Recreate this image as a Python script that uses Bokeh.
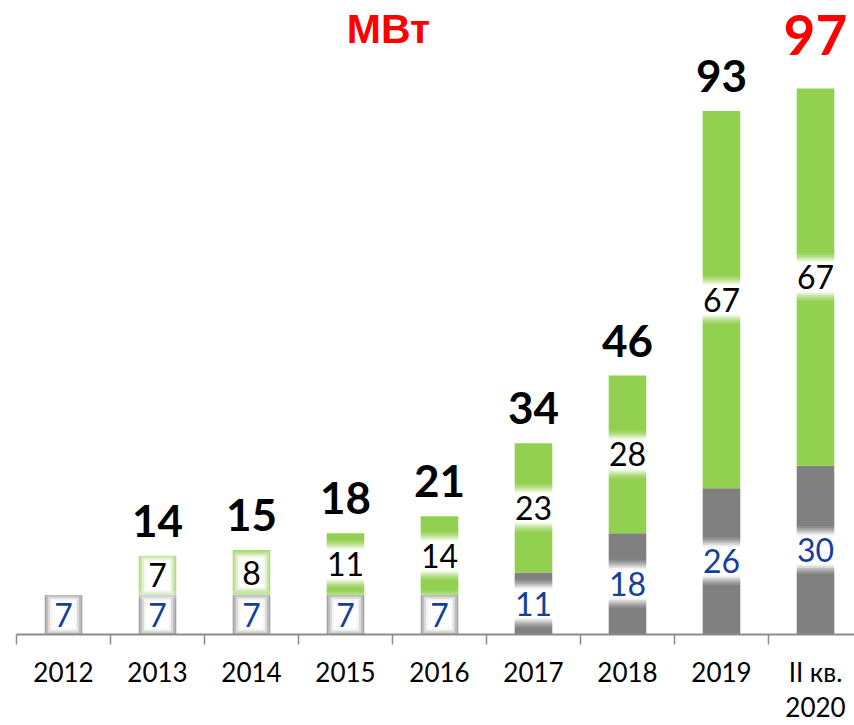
from bokeh.plotting import figure
from bokeh.models import Range1d, FixedTicker, ColumnDataSource, Label
from bokeh.core.properties import value
from bokeh.embed import file_html
from bokeh.resources import INLINE

# ---- data ----
years = ["2012", "2013", "2014", "2015", "2016", "2017", "2018", "2019", "II кв.\n2020"]
base_mw = [7, 7, 7, 7, 7, 11, 18, 26, 30]        # gray segment
added_mw = [0, 7, 8, 11, 14, 23, 28, 67, 67]     # green segment
title_text = "МВт"

GRAY = "#808080"
GREEN = "#92d050"
BLUE = "#153f9b"
AXIS = "#8c8c8c"
FONT = "Lato"

n = len(years)
xs = [i + 0.5 for i in range(n)]
totals = [b + a for b, a in zip(base_mw, added_mw)]

PX_PER_UNIT = 5.628
FRAME_H = 634
DIGIT_W = 17
# glow layers: (extra width px, height px, alpha)
GLOW = [(16, 48, 0.12), (12, 44, 0.18), (8, 40, 0.28), (4, 36, 0.45), (0, 32, 0.7), (-4, 28, 1.0)]

p = figure(width=854, height=725, output_backend="svg", toolbar_location=None,
           x_range=Range1d(0, 8.915), y_range=Range1d(0, FRAME_H / PX_PER_UNIT),
           min_border_left=16, min_border_right=0, min_border_top=0, min_border_bottom=91)
p.outline_line_color = None
p.grid.visible = False
p.yaxis.visible = False
p.background_fill_color = "white"
p.border_fill_color = "white"

base_lbl = [str(b) for b in base_mw]
gdata = dict(x=xs, base=base_mw, mid=[b / 2 for b in base_mw], lbl=base_lbl)
for i, (dw, h, a) in enumerate(GLOW):
    gdata[f"w{i}"] = [DIGIT_W * len(s) + 10 + dw for s in base_lbl]
src = ColumnDataSource(gdata)

keep = [i for i, a in enumerate(added_mw) if a > 0]
green_lbl = [str(added_mw[i]) for i in keep]
ndata = dict(
    x=[xs[i] for i in keep],
    bottom=[base_mw[i] for i in keep],
    top=[totals[i] for i in keep],
    mid=[base_mw[i] + added_mw[i] / 2 for i in keep],
    lbl=green_lbl,
)
for i, (dw, h, a) in enumerate(GLOW):
    ndata[f"w{i}"] = [DIGIT_W * len(s) + 10 + dw for s in green_lbl]
gsrc = ColumnDataSource(ndata)

BW = 0.4
p.vbar(x="x", bottom=0, top="base", width=BW, source=src, fill_color=GRAY, line_color=None)
p.vbar(x="x", bottom="bottom", top="top", width=BW, source=gsrc, fill_color=GREEN, line_color=None)

# soft white glow behind the inner labels (clipped to the bar width visually by layering)
for i, (dw, h, a) in enumerate(GLOW):
    for s in (src, gsrc):
        p.rect(x="x", y="mid", width=f"w{i}", height=h, width_units="screen",
               height_units="screen", source=s, fill_color="white", fill_alpha=a,
               line_color=None)

p.text(x="x", y="mid", text="lbl", source=src, text_align="center",
       text_baseline="middle", text_font=value(FONT), text_font_size="32px", text_color=BLUE)
p.text(x="x", y="mid", text="lbl", source=gsrc, text_align="center",
       text_baseline="middle", text_font=value(FONT), text_font_size="32px", text_color="black")

# totals
tsrc = ColumnDataSource(dict(x=xs[1:-1], y=totals[1:-1], t=[str(t) for t in totals[1:-1]]))
p.text(x="x", y="y", text="t", source=tsrc, text_align="center", text_baseline="alphabetic",
       y_offset=-35, text_font=value(FONT), text_font_style="bold", text_font_size="44px",
       text_color="black")
lsrc = ColumnDataSource(dict(x=xs[-1:], y=totals[-1:], t=[str(t) for t in totals[-1:]]))
p.text(x="x", y="y", text="t", source=lsrc, text_align="center", text_baseline="alphabetic",
       y_offset=-54, text_font=value(FONT), text_font_style="bold", text_font_size="55px",
       text_color="#ff0000")

# title
p.add_layout(Label(x=372, y=FRAME_H - 5, x_units="screen", y_units="screen", text=title_text,
                   text_align="center", text_baseline="top", text_font="Liberation Sans",
                   text_font_style="bold", text_font_size="41px", text_color="#ff0000"))

# x axis
ax = p.xaxis[0]
ax.ticker = FixedTicker(ticks=xs, minor_ticks=list(range(n + 1)))
ax.major_label_overrides = {x: y for x, y in zip(xs, years)}
ax.major_tick_line_color = None
ax.major_tick_in = 0
ax.major_tick_out = 10
ax.minor_tick_in = 0
ax.minor_tick_out = 10
ax.minor_tick_line_color = AXIS
ax.minor_tick_line_width = 1.5
ax.axis_line_color = AXIS
ax.axis_line_width = 2
ax.major_label_standoff = 11
ax.major_label_text_font = FONT
ax.major_label_text_font_size = "26px"
ax.major_label_text_color = "black"
ax.major_label_text_line_height = 1.1

open("out.html", "w").write(file_html(p, INLINE))
